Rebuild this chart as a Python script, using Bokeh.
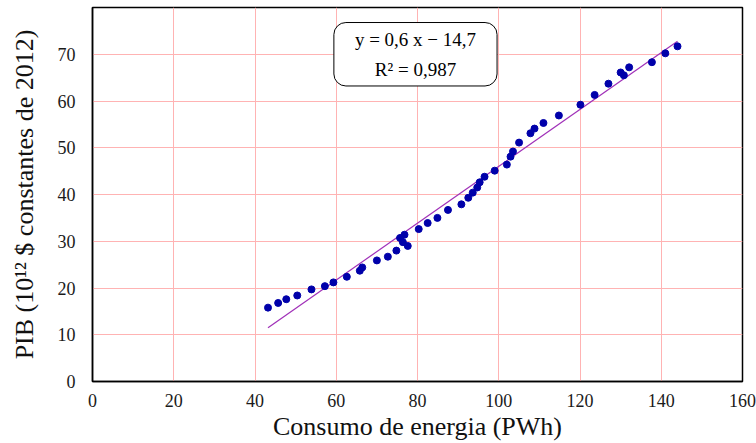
import numpy as np
from bokeh.plotting import figure
from bokeh.models import FixedTicker, Label, Range1d
from bokeh.embed import file_html
from bokeh.resources import INLINE

# Data
energia = [43.2, 45.7, 47.7, 50.4, 53.9, 57.2, 59.3, 62.6, 65.8, 66.4,
           70.0, 72.7, 74.8, 75.7, 76.4, 76.8, 77.6, 80.3, 82.5, 84.9,
           87.5, 90.8, 92.5, 93.6, 94.7, 95.3, 96.5, 99.0, 102.0, 102.9,
           103.5, 105.0, 107.8, 108.8, 111.0, 114.8, 120.1, 123.6, 127.0, 130.0,
           130.8, 132.1, 137.7, 141.0, 144.0]
pib = [15.8, 16.8, 17.6, 18.4, 19.7, 20.4, 21.2, 22.4, 23.7, 24.4,
       25.9, 26.7, 28.0, 30.7, 29.8, 31.4, 29.0, 32.6, 33.9, 35.0,
       36.7, 37.9, 39.3, 40.4, 41.5, 42.6, 43.8, 45.1, 46.4, 48.1,
       49.2, 51.1, 53.1, 54.1, 55.3, 56.9, 59.2, 61.3, 63.7, 66.1,
       65.5, 67.2, 68.3, 70.2, 71.7]
x_ticks = [0, 20, 40, 60, 80, 100, 120, 140, 160]
y_ticks = [0, 10, 20, 30, 40, 50, 60, 70]
eq_text = "y = 0,6 x \u2212 14,7"
r2_text = "R\u00b2 = 0,987"

FONT = "Liberation Serif"

p = figure(width=756, height=443, output_backend="svg", toolbar_location=None,
           x_range=Range1d(0, 160), y_range=Range1d(0, 80),
           min_border_left=92, min_border_right=14, min_border_top=7, min_border_bottom=62)

p.background_fill_color = "white"
p.border_fill_color = "white"
p.outline_line_color = "black"
p.outline_line_width = 1.5

p.xaxis.ticker = FixedTicker(ticks=x_ticks)
p.yaxis.ticker = FixedTicker(ticks=y_ticks)
p.xgrid.ticker = FixedTicker(ticks=x_ticks)
p.ygrid.ticker = FixedTicker(ticks=y_ticks)
for g in (p.xgrid, p.ygrid):
    g.grid_line_color = "#FFB3B3"
    g.grid_line_width = 1

for ax in (p.xaxis, p.yaxis):
    ax.major_tick_line_color = None
    ax.minor_tick_line_color = None
    ax.axis_line_color = "black"
    ax.axis_line_width = 1.5
    ax.major_label_text_font = FONT
    ax.major_label_text_font_size = "18px"
    ax.major_label_text_color = "#1a1a1a"
    ax.axis_label_text_font = FONT
    ax.axis_label_text_font_style = "normal"
    ax.axis_label_text_font_size = "26px"
    ax.axis_label_text_color = "#111111"

p.xaxis.axis_label = "Consumo de energia (PWh)"
p.yaxis.axis_label = "PIB (10\u00b9\u00b2 $ constantes de 2012)"
p.xaxis.major_label_standoff = 6
p.yaxis.major_label_standoff = 11
p.xaxis.axis_label_standoff = 2
p.yaxis.axis_label_standoff = 16

# trend line
xs = np.array(energia)
ys = np.array(pib)
slope, intercept = np.polyfit(xs, ys, 1)
lx = np.array([xs.min(), xs.max()])
p.line(lx, slope * lx + intercept, line_color="#A030B8", line_width=1.2)

p.scatter(energia, pib, size=7, fill_color="#0000AA", line_color="#0000AA")

box = Label(x=79.5, y=70, x_units="data", y_units="data",
            text=eq_text + "\n" + r2_text,
            text_align="center", text_baseline="middle",
            text_font=FONT, text_font_size="19px", text_color="black",
            text_line_height=1.45,
            background_fill_color="white", border_line_color="black",
            border_line_width=1, padding=(21, 6), border_radius=12)
p.add_layout(box)

open("out.html", "w").write(file_html(p, INLINE))
